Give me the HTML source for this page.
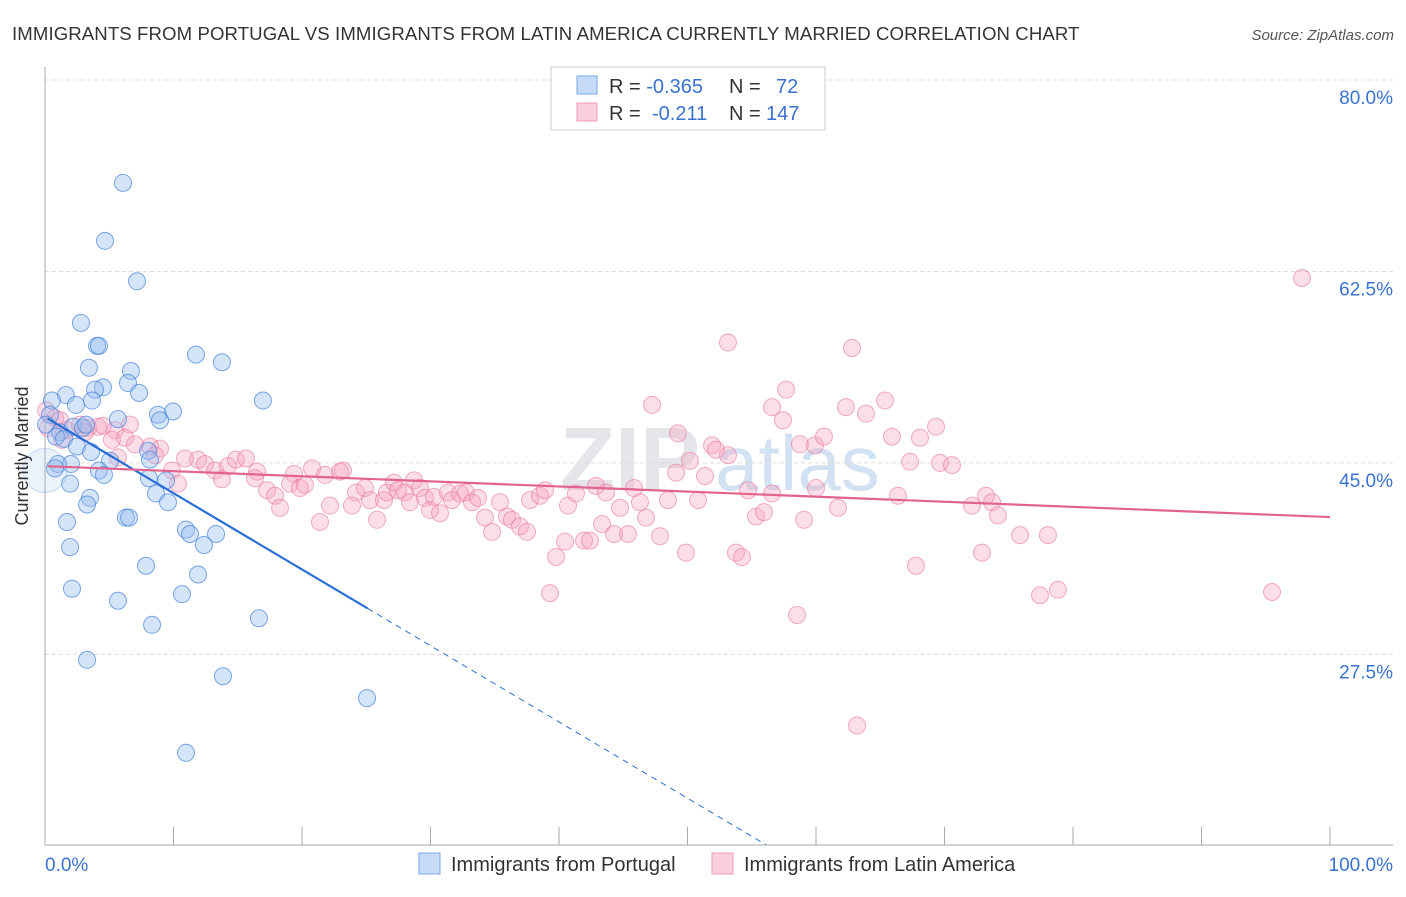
<!DOCTYPE html>
<html><head><meta charset="utf-8"><style>
body{margin:0;background:#fff;font-family:"Liberation Sans",sans-serif}
svg text{font-family:"Liberation Sans",sans-serif}
</style></head><body>
<svg id="chart" width="1406" height="892" xmlns="http://www.w3.org/2000/svg">
<text x="12" y="40" font-size="18.6" fill="#333" letter-spacing="0.1">IMMIGRANTS FROM PORTUGAL VS IMMIGRANTS FROM LATIN AMERICA CURRENTLY MARRIED CORRELATION CHART</text>
<text x="1394" y="40" font-size="15" fill="#555" font-style="italic" text-anchor="end">Source: ZipAtlas.com</text>
<text x="560" y="490" font-size="90" fill="#e6e6ea" font-weight="bold">ZIP</text>
<text x="715" y="490" font-size="78" fill="#d3e2f3">atlas</text>
<g id="grid"></g>
<g id="axes"></g>
<g id="pink"></g>
<g id="blue"></g>
<g id="lines"></g>
<text x="28" y="456" font-size="18" fill="#333" transform="rotate(-90 28 456)" text-anchor="middle">Currently Married</text>
<g>
<rect x="551" y="67" width="274" height="63" fill="#fff" stroke="#ccc"/>
<rect x="577" y="76" width="20" height="18" fill="#c5dbf7" stroke="#7aaae8"/>
<rect x="577" y="103" width="20" height="18" fill="#f9cfdc" stroke="#ee9bb5"/>
<text x="609" y="93" font-size="20" fill="#333">R = <tspan fill="#3a72d0">-0.365</tspan><tspan x="729">N =</tspan><tspan x="776" fill="#3a72d0">72</tspan></text>
<text x="609" y="120" font-size="20" fill="#333">R = <tspan x="652" fill="#3a72d0">-0.211</tspan><tspan x="729">N =</tspan><tspan x="766" fill="#3a72d0">147</tspan></text>
</g>
<g>
<rect x="419" y="853" width="21" height="21" fill="#c5dbf7" stroke="#7aaae8"/>
<text x="451" y="871" font-size="20" fill="#333">Immigrants from Portugal</text>
<rect x="712" y="853" width="21" height="21" fill="#f9cfdc" stroke="#ee9bb5"/>
<text x="744" y="871" font-size="20" fill="#333">Immigrants from Latin America</text>
</g>
<text x="45" y="871" font-size="19" fill="#3a72d0">0.0%</text>
<text x="1393" y="871" font-size="19" fill="#3a72d0" text-anchor="end">100.0%</text>
</svg>
<script>
const yTicks=[80,62.5,45,27.5];
const yTickLabels=["80.0%","62.5%","45.0%","27.5%"];
const xTicks=[0,10,20,30,40,50,60,70,80,90,100];
const blueX=[6.07,4.67,7.16,2.80,4.05,4.20,3.42,11.75,13.77,6.69,6.46,4.51,3.89,1.63,7.32,0.54,2.41,3.66,16.96,9.96,8.79,8.95,5.68,0.39,0.08,1.17,2.18,2.96,3.19,0.86,1.48,2.49,3.58,8.02,8.17,5.06,1.01,2.02,0.78,4.20,4.59,8.09,9.42,1.95,3.50,3.27,8.64,9.57,6.30,6.54,1.71,10.97,11.28,13.31,12.37,1.95,7.86,11.91,2.10,10.66,5.68,8.33,16.65,3.27,13.85,25.06,10.97,0];
const blueY=[70.6,65.3,61.6,57.8,55.7,55.7,53.7,54.9,54.2,53.4,52.3,51.9,51.7,51.2,51.4,50.7,50.3,50.7,50.7,49.7,49.4,48.9,49.0,49.4,48.5,47.8,48.3,48.2,48.5,47.4,47.2,46.5,46.0,46.1,45.3,45.2,44.9,44.9,44.5,44.3,43.9,43.6,43.4,43.1,41.8,41.2,42.2,41.4,40.0,40.0,39.6,38.9,38.5,38.5,37.5,37.3,35.6,34.8,33.5,33.0,32.4,30.2,30.8,27.0,25.5,23.5,18.5,44.3];
const pinkX=[0.08,0.78,1.17,0.23,1.71,2.72,3.35,4.12,4.51,5.45,6.61,1.32,3.11,5.21,6.23,7.00,8.17,8.95,8.56,5.68,9.88,10.35,10.89,11.91,12.45,13.23,14.24,14.86,15.64,13.77,16.50,16.34,17.28,17.90,18.29,19.38,19.07,19.84,20.23,20.78,21.79,22.18,22.96,23.19,21.40,23.89,24.20,24.90,25.29,25.84,26.38,26.61,27.16,27.47,28.02,28.40,28.72,29.18,29.57,29.96,30.27,30.74,31.36,31.67,32.30,32.76,33.23,33.70,34.24,34.79,35.41,35.95,36.34,36.96,37.51,37.74,38.52,38.91,39.77,40.47,40.70,41.32,41.95,42.41,42.88,43.35,43.66,44.28,44.75,45.37,45.84,46.30,46.77,47.24,47.86,48.48,49.11,49.26,49.88,50.19,50.82,51.36,51.91,52.22,53.15,53.15,53.77,54.24,54.71,55.33,55.95,56.58,56.58,57.43,57.67,58.52,58.75,59.07,59.92,60.62,60.00,61.71,62.33,62.80,63.89,63.19,65.37,65.91,66.38,67.32,67.78,68.09,69.34,69.65,70.58,72.14,72.92,73.23,73.70,74.16,75.88,77.43,78.05,78.83,95.49,97.82,39.30];
const pinkY=[49.8,49.1,48.9,48.2,48.0,48.5,48.2,48.3,48.4,48.0,48.5,47.1,47.8,47.1,47.3,46.7,46.5,46.3,45.7,45.5,44.3,43.1,45.4,45.3,44.9,44.3,44.7,45.3,45.4,43.5,44.2,43.6,42.5,42.0,40.9,44.0,43.1,42.7,43.0,44.5,43.9,41.1,44.2,44.3,39.6,41.1,42.3,42.7,41.6,39.8,41.6,42.3,43.2,42.5,42.3,41.4,43.4,42.7,41.8,40.7,41.9,40.4,42.3,41.6,42.2,42.3,41.4,41.8,40.0,38.7,41.4,40.1,39.8,39.2,38.7,41.6,42.0,42.5,36.4,37.8,41.1,42.2,37.9,37.9,42.9,39.4,42.3,38.5,40.9,38.5,42.7,41.4,40.0,50.3,38.3,41.6,44.1,47.7,36.8,45.2,41.6,43.8,46.6,46.2,45.7,56.0,36.8,36.4,42.5,40.1,40.5,42.2,50.1,48.9,51.7,31.1,46.7,39.8,46.6,47.4,42.7,40.9,50.1,55.5,49.5,21.0,50.7,47.4,42.0,45.1,35.6,47.3,48.3,45.0,44.8,41.1,36.8,42.0,41.4,40.2,38.4,32.9,38.4,33.4,33.2,61.9,33.1];
const blueTrend=[49.2,-0.697,25.1];
const pinkTrend=[44.7,40.05];
const NS="http://www.w3.org/2000/svg";
const xs=v=>45+v*12.85, ys=v=>80+(80-v)*10.94;
function mk(t,a,p){const e=document.createElementNS(NS,t);for(const k in a)e.setAttribute(k,a[k]);p.appendChild(e);return e;}
const grid=document.getElementById('grid'),axes=document.getElementById('axes');
yTicks.forEach((t,i)=>{const l=mk('line',{x1:45,x2:1393,y1:ys(t),y2:ys(t),stroke:'#ddd','stroke-dasharray':'4 3'},grid);


const tx=mk('text',{x:1393,y:ys(t)+24,'font-size':19,fill:'#3a72d0','text-anchor':'end'},axes);tx.textContent=yTickLabels[i];

});
const ax=mk('line',{x1:45,x2:45,y1:67,y2:845,stroke:'#aaa'},axes);


const bx=mk('line',{x1:45,x2:1393,y1:845,y2:845,stroke:'#aaa'},axes);


xTicks.forEach(t=>{const l=mk('line',{x1:xs(t),x2:xs(t),y1:827,y2:845,stroke:'#aaa'},axes);

});
const pg=document.getElementById('pink');
pinkX.forEach((x,i)=>{const c=mk('circle',{cx:xs(x),cy:ys(pinkY[i]),r:8.5,fill:'rgba(245,160,190,0.35)',stroke:'rgba(232,120,160,0.6)','stroke-width':1},pg);

});
const bg=document.getElementById('blue');
blueX.forEach((x,i)=>{const big=(i===blueX.length-1);const c=mk('circle',{cx:xs(x),cy:ys(blueY[i]),r:big?22:8.5,fill:big?'rgba(150,190,240,0.2)':'rgba(150,190,240,0.4)',stroke:big?'rgba(70,130,220,0.25)':'rgba(70,130,220,0.7)','stroke-width':1},bg);

});
const lg=document.getElementById('lines');
const bf=x=>blueTrend[0]+blueTrend[1]*x;
const xEnd=(10.1-blueTrend[0])/blueTrend[1];
const b1=mk('line',{x1:xs(0.2),y1:ys(bf(0.2)),x2:xs(blueTrend[2]),y2:ys(bf(blueTrend[2])),stroke:'#2a6fd6','stroke-width':2.2},lg);


const b2=mk('line',{x1:xs(blueTrend[2]),y1:ys(bf(blueTrend[2])),x2:xs(xEnd),y2:ys(bf(xEnd)),stroke:'#2a6fd6','stroke-width':1,'stroke-dasharray':'6 5'},lg);


const p1=mk('line',{x1:xs(0.2),y1:ys(pinkTrend[0]),x2:xs(100),y2:ys(pinkTrend[1]),stroke:'#e2648e','stroke-width':2.2},lg);


</script>
</body></html>
